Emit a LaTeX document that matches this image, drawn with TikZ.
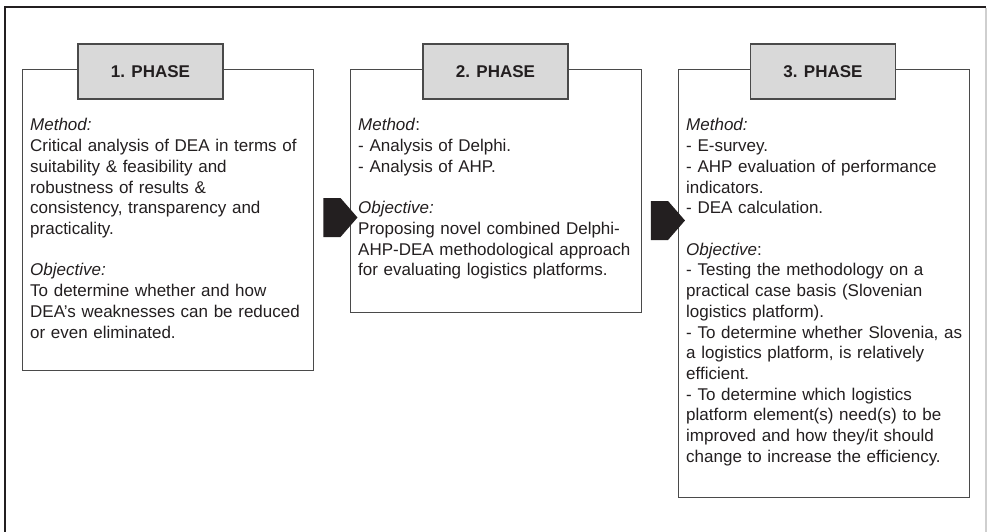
\documentclass[tikz,border=0pt]{standalone}
\usepackage{fontspec}
\setmainfont{Liberation Sans}
\usetikzlibrary{shapes.symbols, positioning}
\definecolor{framegray}{HTML}{4A4A4A}
\definecolor{headgray}{HTML}{D9D9D9}
\definecolor{inkdark}{HTML}{231F20}
\definecolor{edgelight}{HTML}{CFCFCF}

\begin{document}
\begin{tikzpicture}[x=1pt, y=-1pt,
  phasebox/.style={rectangle, draw=framegray, line width=1.2pt, fill=white, anchor=north west, minimum width=291pt, inner sep=0pt},
  phasehead/.style={rectangle, draw=framegray, line width=1.2pt, fill=headgray, minimum width=145pt, minimum height=55pt, inner sep=0pt, font=\fontsize{17}{20}\selectfont\bfseries, text=inkdark},
  phasetext/.style={anchor=base west, inner sep=0pt, align=left, text width=285pt, font=\fontsize{17}{20.7}\selectfont, text=inkdark},
  phasearrow/.style={signal, signal to=east, signal pointer angle=98, fill=inkdark, draw=none, minimum width=34pt, minimum height=39pt, inner sep=0pt}]
\useasboundingbox (0,0) rectangle (987,532);
% outer frame, only left, top and a faint right side show
\draw[inkdark, line width=1.5pt] (5,532) -- (5,7) -- (986,7);
\draw[edgelight, line width=1.2pt] (986,8) -- (986,532);

% boxes
\node[phasebox, minimum height=301pt] (box1) at (22,69) {};
\node[phasebox, minimum height=243pt] (box2) at (350,69) {};
\node[phasebox, minimum height=428pt] (box3) at (678,69) {};

% headers
\node[phasehead] (head1) at (150.5,71.5) {1. PHASE};
\node[phasehead] (head2) at (495.5,71.5) {2. PHASE};
\node[phasehead] (head3) at (823,71.5) {3. PHASE};

% texts
\node[phasetext] (txt1) at (30,131) {\textit{Method:}\\
Critical analysis of DEA in terms of\\
suitability \& feasibility and\\
robustness of results \&\\
consistency, transparency and\\
practicality.\\[20.7pt]
\textit{Objective:}\\
To determine whether and how\\
DEA’s weaknesses can be reduced\\
or even eliminated.};
\node[phasetext] (txt2) at (358,131) {\textit{Method}:\\
- Analysis of Delphi.\\
- Analysis of AHP.\\[20.7pt]
\textit{Objective:}\\
Proposing novel combined Delphi-\\
AHP-DEA methodological approach\\
for evaluating logistics platforms.};
\node[phasetext] (txt3) at (686,131) {\textit{Method:}\\
- E-survey.\\
- AHP evaluation of performance\\
indicators.\\
- DEA calculation.\\[20.7pt]
\textit{Objective}:\\
- Testing the methodology on a\\
practical case basis (Slovenian\\
logistics platform).\\
- To determine whether Slovenia, as\\
a logistics platform, is relatively\\
efficient.\\
- To determine which logistics\\
platform element(s) need(s) to be\\
improved and how they/it should\\
change to increase the efficiency.};

% arrows between phases
\node[phasearrow] (arr1) at (332,217.5) {};
\node[phasearrow] (arr2) at (659.5,220.5) {};
\end{tikzpicture}
\end{document}
